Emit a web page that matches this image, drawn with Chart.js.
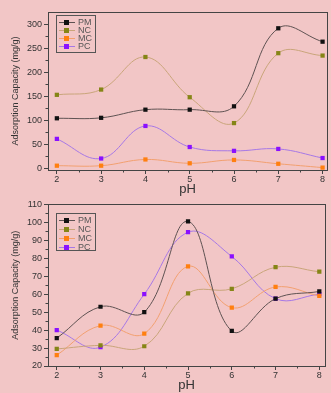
<!DOCTYPE html>
<html><head><meta charset="utf-8">
<script src="https://cdn.jsdelivr.net/npm/chart.js@4.4.0/dist/chart.umd.min.js"></script>
<style>
html,body{margin:0;padding:0;background:#f2c6c6;}
#w1{position:absolute;left:0;top:0;width:331px;height:197px;}
#w2{position:absolute;left:0;top:197px;width:331px;height:196px;}
</style></head><body>
<div id="w1"><canvas id="c1"></canvas></div>
<div id="w2"><canvas id="c2"></canvas></div>
<script>
const pH = [2,3,4,5,6,7,8];
const seriesNames = ['PM','NC','MC','PC'];
// top chart
const topPM = [104,105,122,122,129,292,264];
const topNC = [153,164,232,148,94,240,235];
const topMC = [5,5,18,10,17,9,1];
const topPC = [61,20,88,44,36,40,21];
const topYTicks = [0,50,100,150,200,250,300];
// bottom chart
const botPM = [35.5,53,50,100.5,39.5,57.5,61.5];
const botNC = [29.5,31.5,31,60.5,63,75,72.5];
const botMC = [26,42.5,38,75.5,52.5,64,59];
const botPC = [40,30.5,60,94.5,81,57.5,60];
const botYTicks = [20,30,40,50,60,70,80,90,100,110];

const markerColors = ['#111111','#858516','#ff7f10','#8a10ff'];
const lineColors = ['#5e5252','#c9a57a','#f2a070','#a678e6'];

function makeDatasets(arrs){
  return arrs.map((a,i)=>({
    label: seriesNames[i],
    data: a.map((v,j)=>({x:pH[j],y:v})),
    borderColor: lineColors[i],
    backgroundColor: markerColors[i],
    pointBackgroundColor: markerColors[i],
    pointBorderColor: markerColors[i],
    pointStyle: 'rect',
    pointRadius: 3,
    pointBorderWidth: 0,
    borderWidth: 1,
    tension: 0.4,
    fill: false
  }));
}

const framePlugin = {
  id:'frame',
  afterDraw(chart, args, opts){
    const ctx = chart.ctx, a = chart.chartArea;
    ctx.save();
    ctx.strokeStyle = '#444';
    ctx.lineWidth = 1;
    ctx.strokeRect(Math.round(a.left)+0.5, Math.round(a.top)+0.5, Math.round(a.right-a.left), Math.round(a.bottom-a.top));
    // minor ticks
    const xs = chart.scales.x, ys = chart.scales.y;
    ctx.beginPath();
    opts.xMinor.forEach(v=>{
      const px = Math.round(xs.getPixelForValue(v))+0.5;
      ctx.moveTo(px, a.bottom); ctx.lineTo(px, a.bottom+2.5);
    });
    opts.yMinor.forEach(v=>{
      const py = Math.round(ys.getPixelForValue(v))+0.5;
      ctx.moveTo(a.left, py); ctx.lineTo(a.left-2.5, py);
    });
    ctx.stroke();
    // legend
    const L = opts.legend;
    ctx.fillStyle = 'rgba(242,198,198,1)';
    ctx.fillRect(L.x, L.y, L.w, L.h);
    ctx.strokeStyle = '#555';
    ctx.strokeRect(L.x+0.5, L.y+0.5, L.w, L.h);
    ctx.font = '9px "Liberation Sans", Arial, sans-serif';
    ctx.textBaseline = 'middle';
    chart.data.datasets.forEach((d,i)=>{
      const yy = L.y + L.first + i*L.step;
      ctx.strokeStyle = d.borderColor;
      ctx.beginPath(); ctx.moveTo(L.x+3, yy+0.5); ctx.lineTo(L.x+19, yy+0.5); ctx.stroke();
      ctx.fillStyle = d.pointBackgroundColor;
      ctx.fillRect(L.x+8, yy-2, 5, 5);
      ctx.fillStyle = '#555';
      ctx.fillText(d.label, L.x+22, yy+0.5);
    });
    ctx.restore();
  }
};

function makeChart(id, arrs, yTicks, ymin, ymax, xmin, xmax, pad, xMinor, yMinor, legend){
  return new Chart(document.getElementById(id), {
    type:'line',
    data:{datasets: makeDatasets(arrs)},
    options:{
      responsive:true, maintainAspectRatio:false, animation:false,
      layout:{padding:pad},
      plugins:{legend:{display:false}, tooltip:{enabled:false},
        frame:{xMinor, yMinor, legend}},
      scales:{
        x:{type:'linear', min:xmin, max:xmax,
          afterBuildTicks: s=>{ s.ticks = pH.map(v=>({value:v})); },
          afterFit: s=>{ s.height = 27; },
          grid:{display:true, drawOnChartArea:false, drawTicks:true, tickLength:4, color:'#444'},
          border:{display:true, color:'#444'},
          ticks:{color:'#333', font:{size:9, family:'"Liberation Sans", Arial, sans-serif'}, padding:0, maxRotation:0},
          title:{display:true, text:'pH', color:'#333', font:{size:13, family:'"Liberation Sans", Arial, sans-serif'}, padding:{top:4,bottom:0}}
        },
        y:{type:'linear', min:ymin, max:ymax,
          afterBuildTicks: s=>{ s.ticks = yTicks.map(v=>({value:v})); },
          afterFit: s=>{ s.width = 48; },
          grid:{display:true, drawOnChartArea:false, drawTicks:true, tickLength:4, color:'#444'},
          border:{display:true, color:'#444'},
          ticks:{color:'#333', font:{size:9, family:'"Liberation Sans", Arial, sans-serif'}, padding:2},
          title:{display:true, text:'Adsorption Capacity (mg/g)', color:'#333', font:{size:9, family:'"Liberation Sans", Arial, sans-serif'}, padding:{top:10,bottom:2}}
        }
      }
    },
    plugins:[framePlugin]
  });
}

makeChart('c1', [topPM,topNC,topMC,topPC], topYTicks, -4, 326, 1.8, 8.1,
  {left:0, right:1, top:12, bottom:0},
  [2.5,3.5,4.5,5.5,6.5,7.5], [25,75,125,175,225,275],
  {x:56, y:15, w:39, h:37, first:7, step:8});
makeChart('c2', [botPM,botNC,botMC,botPC], botYTicks, 20, 110, 1.8, 8.13,
  {left:0, right:6, top:7, bottom:0},
  [2.5,3.5,4.5,5.5,6.5,7.5], [25,35,45,55,65,75,85,95,105],
  {x:56, y:16, w:39, h:37, first:7, step:9});
</script>
</body></html>
